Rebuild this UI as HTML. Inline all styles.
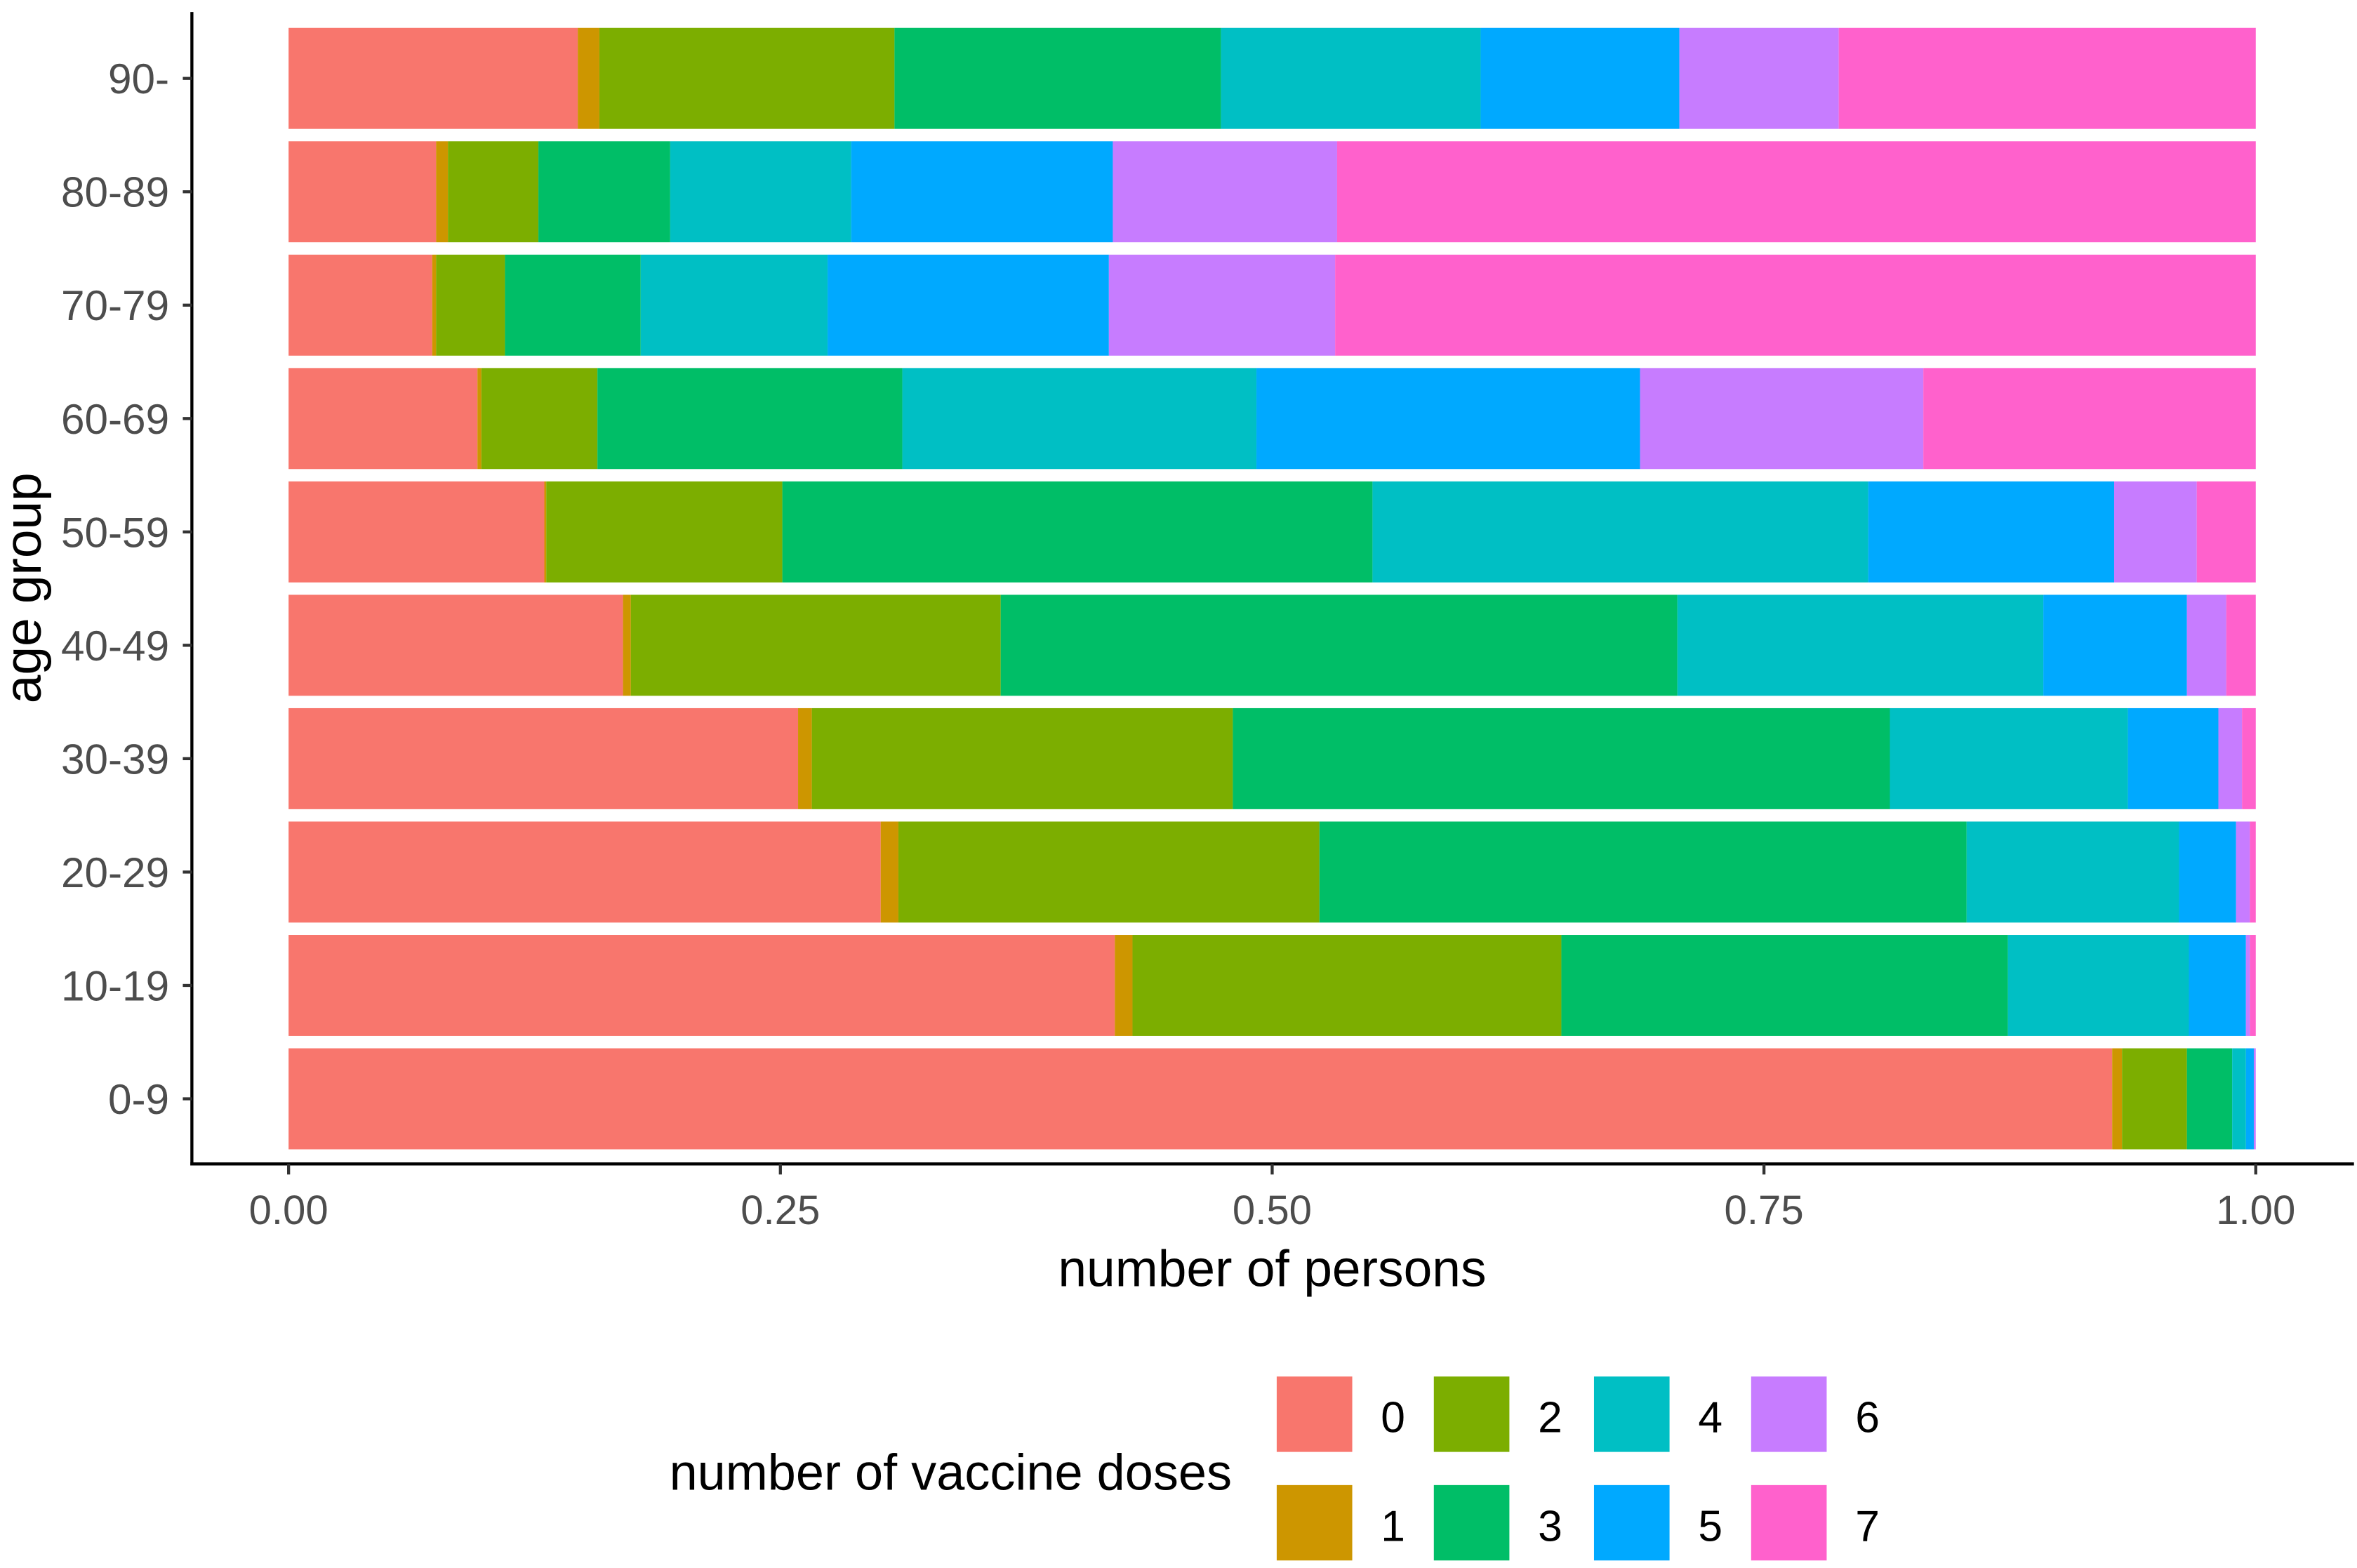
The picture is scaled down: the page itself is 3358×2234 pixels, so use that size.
<!DOCTYPE html>
<html><head><meta charset="utf-8"><style>
html,body{margin:0;padding:0;background:#fff;}
svg{display:block;font-family:"Liberation Sans",Arial,sans-serif;}
</style></head><body>
<svg id="chart" width="3358" height="2234" viewBox="0 0 1560 1040" preserveAspectRatio="none" xmlns="http://www.w3.org/2000/svg">
<g id="bars"></g>
<line x1="127" y1="8" x2="127" y2="773" stroke="#000" stroke-width="2"/>
<line x1="126" y1="772" x2="1558" y2="772" stroke="#000" stroke-width="2"/>
<g id="yticks"></g>
<g id="xticks"></g>
<text x="842" y="853" font-size="34" text-anchor="middle" fill="#000">number of persons</text>
<text transform="translate(27,390) rotate(-90)" font-size="34" text-anchor="middle" fill="#000">age group</text>
<g id="legend">
<text x="443" y="988" font-size="33.5" fill="#000">number of vaccine doses</text>
</g>
</svg>
<script>
const categories = ["90-","80-89","70-79","60-69","50-59","40-49","30-39","20-29","10-19","0-9"];
const doses = ["0","1","2","3","4","5","6","7"];
const colors = ["#F8766D","#CD9600","#7CAE00","#00BE67","#00BFC4","#00A9FF","#C77CFF","#FF61CC"];
const share90 = [.147,.011,.150,.166,.132,.101,.081,.212];
const share80 = [.075,.006,.046,.067,.092,.133,.114,.467];
const share70 = [.073,.002,.035,.069,.095,.143,.115,.468];
const share60 = [.096,.002,.059,.155,.180,.195,.144,.169];
const share50 = [.130,.001,.120,.300,.252,.125,.042,.030];
const share40 = [.170,.004,.188,.344,.186,.073,.020,.015];
const share30 = [.259,.007,.214,.334,.121,.046,.012,.007];
const share20 = [.301,.009,.214,.329,.108,.029,.007,.003];
const share10 = [.420,.009,.218,.227,.092,.029,.002,.003];
const share00 = [.927,.005,.033,.023,.007,.004,.001,.000];
const shares = [share90,share80,share70,share60,share50,share40,share30,share20,share10,share00];
const xTicks = [0,0.25,0.5,0.75,1];
const xTickLabels = ["0.00","0.25","0.50","0.75","1.00"];

const NS="http://www.w3.org/2000/svg";
const xScale = v => 191 + v*1302;
const yCenter = i => 52 + i*75.2;
const bandH = 67;
const bars=document.getElementById('bars');
shares.forEach((row,i)=>{
  const total=row.reduce((a,b)=>a+b,0);
  let cum=0;
  row.forEach((v,j)=>{
    const r=document.createElementNS(NS,'rect');
    const x0=xScale(cum/total); cum+=v; const x1=xScale(cum/total);
    r.setAttribute('x',x0); r.setAttribute('width',Math.max(0,x1-x0));
    r.setAttribute('y',yCenter(i)-bandH/2); r.setAttribute('height',bandH);
    r.setAttribute('fill',colors[j]);
    
    
    bars.appendChild(r);
  });
});
const yt=document.getElementById('yticks');
categories.forEach((c,i)=>{
  const l=document.createElementNS(NS,'line');
  l.setAttribute('x1',121);l.setAttribute('x2',127);l.setAttribute('y1',yCenter(i));l.setAttribute('y2',yCenter(i));
  l.setAttribute('stroke','#333');l.setAttribute('stroke-width',2);
  
  
  yt.appendChild(l);
  const t=document.createElementNS(NS,'text');
  t.setAttribute('x',112);t.setAttribute('y',yCenter(i)+10);t.setAttribute('text-anchor','end');
  t.setAttribute('font-size',28);t.setAttribute('fill','#4d4d4d');t.textContent=c;
  
  
  yt.appendChild(t);
});
const xt=document.getElementById('xticks');
xTicks.forEach((v,i)=>{
  const l=document.createElementNS(NS,'line');
  l.setAttribute('x1',xScale(v));l.setAttribute('x2',xScale(v));l.setAttribute('y1',772);l.setAttribute('y2',779);
  l.setAttribute('stroke','#333');l.setAttribute('stroke-width',2);
  
  
  xt.appendChild(l);
  const t=document.createElementNS(NS,'text');
  t.setAttribute('x',xScale(v));t.setAttribute('y',812);t.setAttribute('text-anchor','middle');
  t.setAttribute('font-size',27);t.setAttribute('fill','#4d4d4d');t.textContent=xTickLabels[i];
  
  
  xt.appendChild(t);
});
const lg=document.getElementById('legend');
const colX=[845,949,1055,1159], rowY=[913,985];
doses.forEach((d,k)=>{
  const col=Math.floor(k/2), row=k%2;
  const r=document.createElementNS(NS,'rect');
  r.setAttribute('x',colX[col]);r.setAttribute('y',rowY[row]);r.setAttribute('width',50);r.setAttribute('height',50);
  r.setAttribute('fill',colors[k]);
  
  
  lg.appendChild(r);
  const t=document.createElementNS(NS,'text');
  t.setAttribute('x',colX[col]+77);t.setAttribute('y',rowY[row]+37);t.setAttribute('text-anchor','middle');
  t.setAttribute('font-size',29);t.setAttribute('fill','#000');t.textContent=d;
  
  
  lg.appendChild(t);
});
</script>
</body></html>
